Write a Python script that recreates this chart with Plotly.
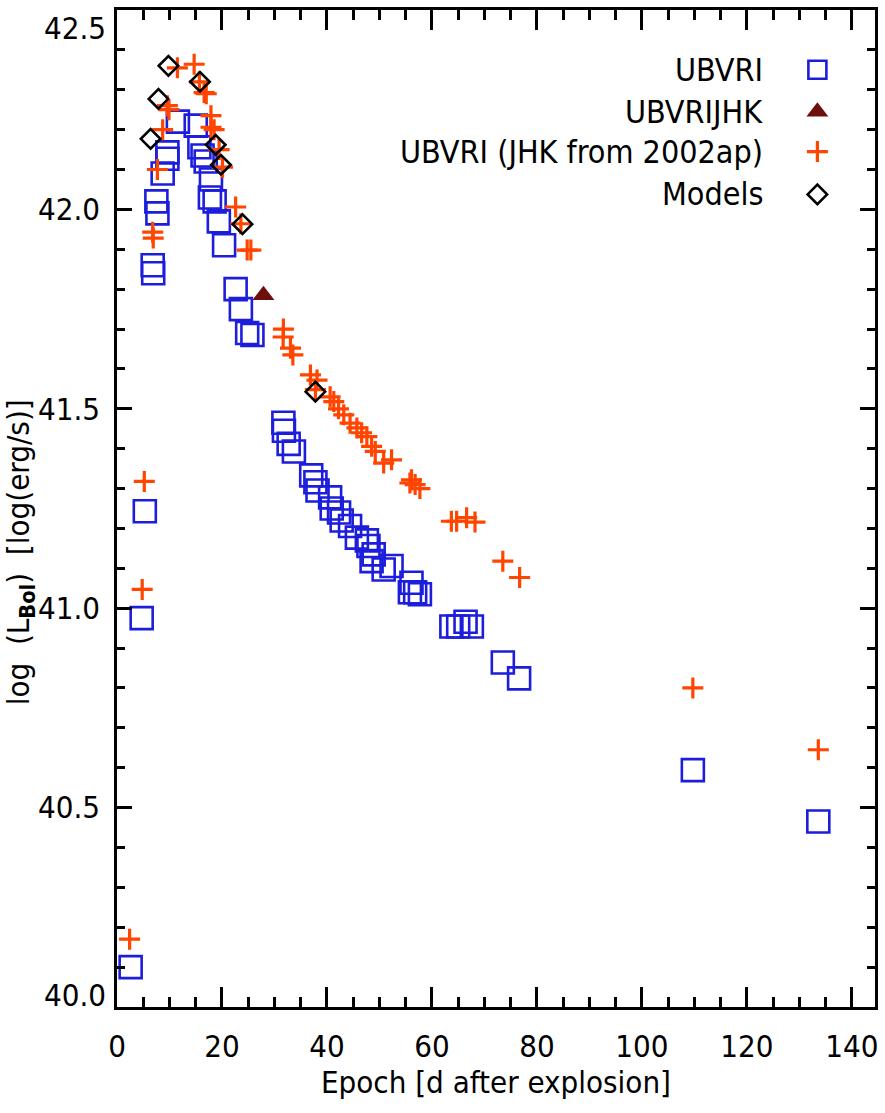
import plotly.graph_objects as go

# ---------------- data ----------------
ubvri_t = [2.6, 4.7, 5.3, 6.8, 6.9, 7.5, 7.7, 8.7, 9.6, 9.6, 11.6, 15.0, 15.7, 16.3, 16.9,
           17.9, 17.7, 18.6, 19.4, 20.4, 22.6, 23.6, 24.8, 25.8, 31.7, 31.8, 32.7, 33.7,
           37.0, 37.8, 38.2, 40.6, 40.9, 42.3, 42.8, 44.4, 45.7, 47.6, 47.9, 48.9, 48.5,
           50.8, 52.3, 55.8, 56.1, 56.8, 57.7, 63.7, 65.0, 66.4, 67.6, 73.5, 76.6, 109.7, 133.6]
ubvri_L = [40.10, 40.975, 41.243, 41.86, 41.84, 42.02, 41.99, 42.09, 42.143, 42.127, 42.22,
           42.21, 42.156, 42.135, 42.12, 42.075, 42.03, 42.02, 41.97, 41.91, 41.80, 41.75,
           41.69, 41.685, 41.465, 41.445, 41.412, 41.393, 41.333, 41.316, 41.295, 41.278,
           41.25, 41.24, 41.22, 41.206, 41.177, 41.17, 41.156, 41.135, 41.118, 41.097,
           41.106, 41.04, 41.064, 41.04, 41.035, 40.954, 40.954, 40.966, 40.954, 40.864,
           40.824, 40.594, 40.465]

full_t = [27.9]
full_L = [41.785]

jhk_t = [2.4, 4.8, 5.2, 6.8, 6.9, 7.7, 8.7, 9.6, 9.9, 11.5, 14.7, 15.7, 16.6, 17.0, 17.9,
         17.9, 18.5, 19.45, 20.1, 22.6, 23.6, 24.8, 25.5, 31.7, 31.65, 33.05, 33.5, 36.85,
         38.1, 37.8, 40.6, 41.3, 42.2, 43.2, 44.4, 45.7, 46.6, 47.6, 48.5, 49.2, 50.8,
         52.3, 55.8, 56.1, 56.8, 57.7, 63.7, 64.7, 66.6, 68.2, 73.5, 76.7, 109.7, 133.6]
jhk_L = [40.17, 41.047, 41.318, 41.943, 41.928, 42.10, 42.20, 42.26, 42.25, 42.355, 42.364,
         42.32, 42.293, 42.29, 42.235, 42.206, 42.20, 42.15, 42.106, 42.006, 41.964, 41.898,
         41.898, 41.70, 41.68, 41.652, 41.635, 41.585, 41.572, 41.548, 41.53, 41.518, 41.50,
         41.485, 41.464, 41.452, 41.44, 41.43, 41.406, 41.393, 41.364, 41.372, 41.314,
         41.322, 41.31, 41.30, 41.218, 41.218, 41.227, 41.216, 41.118, 41.077, 40.80, 40.645]

model_t = [6.4, 7.9, 9.8, 15.8, 18.8, 19.8, 23.9, 37.8]
model_L = [42.177, 42.277, 42.36, 42.32, 42.162, 42.112, 41.963, 41.543]

legend_labels = ["UBVRI", "UBVRIJHK", "UBVRI (JHK from 2002ap)", "Models"]

x_ticks = [0, 20, 40, 60, 80, 100, 120, 140]
y_ticks = [40.5, 41.0, 41.5, 42.0]

x_title = "Epoch [d after explosion]"
y_title = "log  (L<sub><b>Bol</b></sub>)  [log(erg/s)]"

# ---------------- styles ----------------
BLUE = "#1d1ddc"
ORANGE = "#ff4500"
DARKRED = "#6e0f0f"
FONT = "Liberation Sans Narrow, DejaVu Sans Condensed, Arial Narrow, sans-serif"
FS_TICK = 31
FS_TITLE = 31
FS_LEG = 32

sq = dict(symbol="square-open", size=22, color=BLUE, line=dict(width=2.6, color=BLUE))
tri = dict(symbol="triangle-up", size=19, color=DARKRED, line=dict(width=0))
plus = dict(symbol="cross-thin-open", size=15, color=ORANGE, line=dict(width=3.2, color=ORANGE))
dia = dict(symbol="diamond-open", size=15, color="black", line=dict(width=2.6, color="black"))

fig = go.Figure()
fig.add_trace(go.Scatter(x=ubvri_t, y=ubvri_L, mode="markers", marker=sq, name=legend_labels[0]))
fig.add_trace(go.Scatter(x=jhk_t, y=jhk_L, mode="markers", marker=plus, name=legend_labels[2]))
fig.add_trace(go.Scatter(x=full_t, y=full_L, mode="markers", marker=tri, name=legend_labels[1]))
fig.add_trace(go.Scatter(x=model_t, y=model_L, mode="markers", marker=dia, name=legend_labels[3]))

# ---------------- custom legend (text left of symbol) ----------------
leg_y = [0.940, 0.898, 0.858, 0.815]
leg_sym_x = 0.924
leg_txt_x = 0.855
leg_markers = [dict(sq, size=18), tri, plus, dia]
for lab, yy, mk in zip(legend_labels, leg_y, leg_markers):
    fig.add_trace(go.Scatter(x=[leg_sym_x], y=[yy], mode="markers", marker=mk,
                             xaxis="x2", yaxis="y2", showlegend=False, hoverinfo="skip"))
    fig.add_annotation(x=leg_txt_x, y=yy, xref="paper", yref="paper", text=lab,
                       showarrow=False, xanchor="right", yanchor="middle",
                       font=dict(family=FONT, size=FS_LEG, color="black"))

# end tick labels shifted inward (as in the original)
fig.add_annotation(x=0, y=42.5, xref="paper", yref="y", text="42.5", showarrow=False,
                   xanchor="right", yanchor="middle", xshift=-9, yshift=-18,
                   font=dict(family=FONT, size=FS_TICK, color="black"))
fig.add_annotation(x=0, y=40.0, xref="paper", yref="y", text="40.0", showarrow=False,
                   xanchor="right", yanchor="middle", xshift=-9, yshift=12,
                   font=dict(family=FONT, size=FS_TICK, color="black"))

# y-axis title as a rotated annotation
fig.add_annotation(x=-0.128, y=0.456, xref="paper", yref="paper", text=y_title,
                   showarrow=False, textangle=-90, xanchor="center", yanchor="middle",
                   font=dict(family=FONT, size=FS_TITLE, color="black"))

axis_common = dict(showline=True, linecolor="black", linewidth=2.5, mirror="ticks",
                   ticks="inside", tickcolor="black", tickwidth=2.5, showgrid=False,
                   zeroline=False, tickfont=dict(family=FONT, size=FS_TICK, color="black"))

fig.update_layout(
    width=885, height=1113,
    margin=dict(l=117, r=7, t=8, b=106),
    paper_bgcolor="white", plot_bgcolor="white",
    showlegend=False,
    xaxis=dict(range=[0, 144.4], tickvals=x_ticks, ticktext=[str(v) for v in x_ticks],
               ticklen=20, ticklabelstandoff=10,
               minor=dict(dtick=5, ticklen=10, tickwidth=2.5, tickcolor="black", ticks="inside"),
               title=dict(text=x_title, standoff=8,
                          font=dict(family=FONT, size=FS_TITLE, color="black")),
               **axis_common),
    yaxis=dict(range=[40.0, 42.5], tickvals=y_ticks, ticktext=["%.1f" % v for v in y_ticks],
               ticklen=15, ticklabelstandoff=8,
               minor=dict(dtick=0.1, ticklen=8, tickwidth=2.5, tickcolor="black", ticks="inside"),
               **axis_common),
    xaxis2=dict(range=[0, 1], overlaying="x", visible=False),
    yaxis2=dict(range=[0, 1], overlaying="y", visible=False),
)

fig.write_html("out.html")
